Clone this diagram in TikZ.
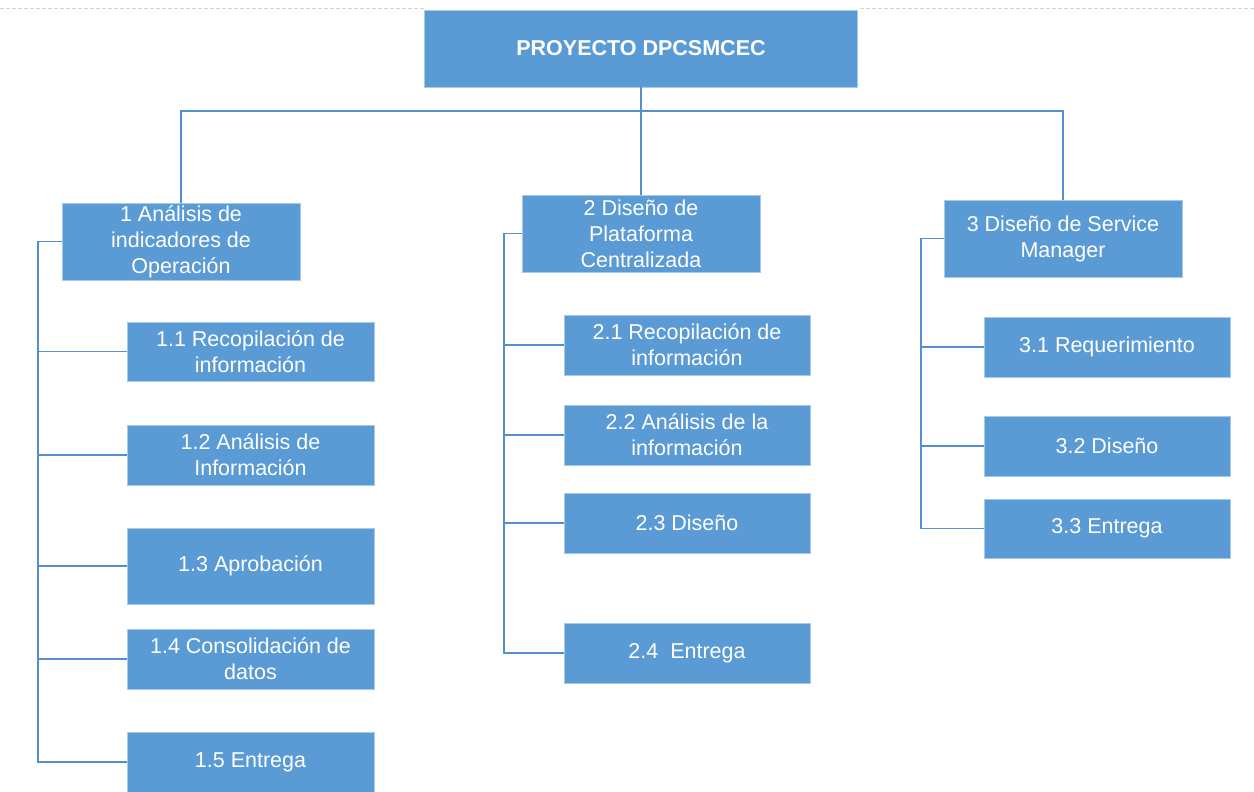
\documentclass[tikz,border=0pt]{standalone}
\usepackage{fontspec}
\setmainfont{Liberation Sans}
\definecolor{wbsblue}{HTML}{5B9BD5}
\definecolor{wbsedge}{HTML}{A8CAEA}
\definecolor{wbsline}{HTML}{5590CC}
\newcommand\wbsfont{\fontsize{21.5}{26}\selectfont}
\tikzset{
  wbs/.style={rectangle, fill=wbsblue, draw=wbsedge, line width=0.8pt,
    inner sep=0pt, outer sep=0pt, align=center, text=white, font=\wbsfont},
  conn/.style={draw=wbsline, line width=1.5pt},
  pagerule/.style={draw=gray!35, line width=0.8pt, dash pattern=on 4pt off 2pt},
}
\begin{document}
\begin{tikzpicture}[x=1pt,y=-1pt]
\useasboundingbox (0,0) rectangle (1254,792);

% page rule behind the title
\draw[pagerule] (0,8) -- (425,8);
\draw[pagerule] (860,8) -- (1254,8);

% title
\node[wbs, minimum width=433, minimum height=77, font=\wbsfont\bfseries] (top) at (641,48.5) {PROYECTO DPCSMCEC};

% first level
\node[wbs, minimum width=238, minimum height=77] (b1) at (181,241.5) {1 Análisis de\\indicadores de\\Operación};
\node[wbs, minimum width=238, minimum height=77] (b2) at (641,233.5) {2 Diseño de\\Plataforma\\Centralizada};
\node[wbs, minimum width=238, minimum height=77] (b3) at (1063,238.5) {3 Diseño de Service\\Manager};

% work packages of 1
\node[wbs, minimum width=247, minimum height=59] (c11) at (250.5,351.5) {1.1 Recopilación de\\información};
\node[wbs, minimum width=247, minimum height=60] (c12) at (250.5,455) {1.2 Análisis de\\Información};
\node[wbs, minimum width=247, minimum height=76] (c13) at (250.5,566) {1.3 Aprobación};
\node[wbs, minimum width=247, minimum height=60] (c14) at (250.5,659) {1.4 Consolidación de\\datos};
\node[wbs, minimum width=247, minimum height=60] (c15) at (250.5,762) {1.5 Entrega};

% work packages of 2
\node[wbs, minimum width=246, minimum height=60] (c21) at (687,345) {2.1 Recopilación de\\información};
\node[wbs, minimum width=246, minimum height=60] (c22) at (687,435) {2.2 Análisis de la\\información};
\node[wbs, minimum width=246, minimum height=60] (c23) at (687,523) {2.3 Diseño};
\node[wbs, minimum width=246, minimum height=60] (c24) at (687,653) {2.4\ \ Entrega};

% work packages of 3
\node[wbs, minimum width=246, minimum height=60] (c31) at (1107,347) {3.1 Requerimiento};
\node[wbs, minimum width=246, minimum height=60] (c32) at (1107,446) {3.2 Diseño};
\node[wbs, minimum width=246, minimum height=59] (c33) at (1107,528.5) {3.3 Entrega};

% connectors
\coordinate (bus) at (0,111);
\coordinate (r1) at (38,0);
\coordinate (r2) at (504,0);
\coordinate (r3) at (921,0);

\draw[conn] (top.south) -- (b2.north);
\draw[conn] (b1.north) -- (b1.north |- bus) -- (b3.north |- bus) -- (b3.north);

\draw[conn] (b1.west) -- (b1.west -| r1) -- (r1 |- c15.west) -- (c15.west);
\foreach \n in {c11,c12,c13,c14}
  \draw[conn] (\n.west) -- (\n.west -| r1);

\draw[conn] (b2.west) -- (b2.west -| r2) -- (r2 |- c24.west) -- (c24.west);
\foreach \n in {c21,c22,c23}
  \draw[conn] (\n.west) -- (\n.west -| r2);

\draw[conn] (b3.west) -- (b3.west -| r3) -- (r3 |- c33.west) -- (c33.west);
\foreach \n in {c31,c32}
  \draw[conn] (\n.west) -- (\n.west -| r3);
\end{tikzpicture}
\end{document}
